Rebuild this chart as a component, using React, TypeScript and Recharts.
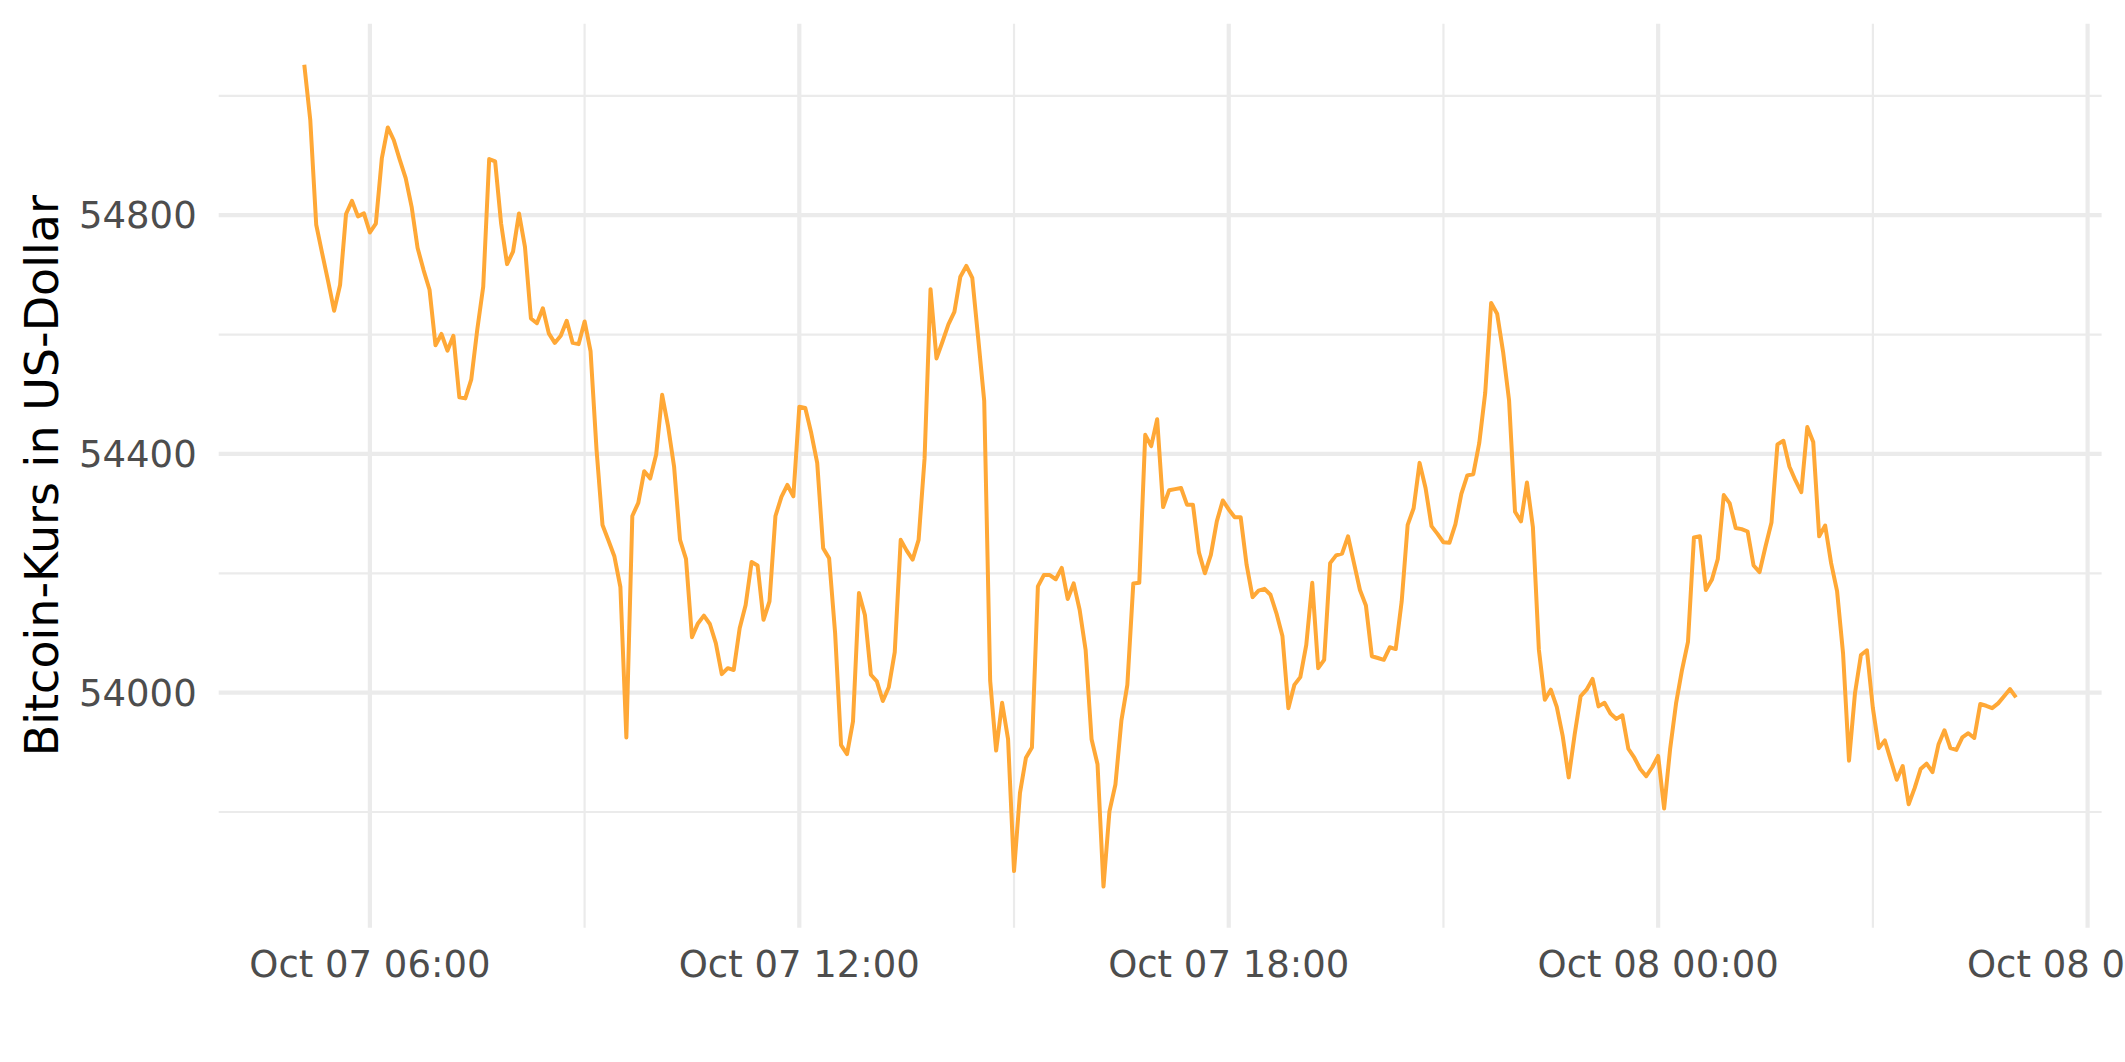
import React from 'react';
import { LineChart, Line, XAxis, YAxis, CartesianGrid } from 'recharts';

// Time index: minutes since Oct 07 00:00, sampled every 5 minutes
const startMinute = 305; // Oct 07 05:05
const stepMinutes = 5;

const prices: number[] = [
  55052, 54960, 54784, 54736, 54689, 54640, 54683, 54802, 54824, 54798,
  54803, 54771, 54786, 54895, 54947, 54926, 54893, 54862, 54814, 54745,
  54708, 54675, 54582, 54601, 54573, 54598, 54495, 54493, 54525, 54608,
  54680, 54894, 54890, 54786, 54718, 54739, 54803, 54747, 54627, 54619,
  54644, 54602, 54586, 54598, 54623, 54586, 54584, 54622, 54572, 54407,
  54281, 54255, 54228, 54177, 53925, 54296, 54318, 54371, 54359, 54399,
  54499, 54446, 54379, 54256, 54224, 54093, 54116, 54129, 54115, 54083,
  54031, 54041, 54038, 54108, 54147, 54219, 54213, 54122, 54153, 54296,
  54328, 54348, 54329, 54479, 54477, 54435, 54385, 54242, 54225, 54100,
  53912, 53897, 53952, 54167, 54130, 54030, 54019, 53986, 54009, 54068,
  54256, 54238, 54223, 54256, 54392, 54676, 54560, 54588, 54617, 54638,
  54697, 54715, 54695, 54593, 54489, 54020, 53903, 53983, 53922, 53701,
  53832, 53891, 53908, 54178, 54197, 54197, 54190, 54209, 54157, 54183,
  54139, 54072, 53922, 53880, 53675, 53801, 53846, 53953, 54013, 54183,
  54184, 54432, 54413, 54458, 54311, 54339, 54341, 54343, 54315, 54315,
  54235, 54200, 54231, 54287, 54322, 54307, 54294, 54294, 54214, 54160,
  54171, 54174, 54164, 54133, 54095, 53974, 54013, 54026, 54080, 54184,
  54041, 54055, 54217, 54230, 54233, 54262, 54217, 54172, 54146, 54061,
  54058, 54055, 54076, 54073, 54153, 54281, 54309, 54385, 54343, 54279,
  54266, 54252, 54251, 54282, 54333, 54364, 54366, 54418, 54502, 54653,
  54635, 54571, 54490, 54303, 54287, 54352, 54277, 54072, 53988, 54005,
  53976, 53927, 53858, 53930, 53994, 54005, 54023, 53977, 53983, 53965,
  53956, 53962, 53906, 53891, 53872, 53860, 53875, 53894, 53806, 53905,
  53982, 54038, 54085, 54260, 54262, 54172, 54189, 54224, 54331, 54317,
  54276, 54274, 54270, 54213, 54202, 54245, 54285, 54416, 54422, 54379,
  54356, 54336, 54445, 54420, 54262, 54280, 54217, 54170, 54066, 53886,
  53999, 54063, 54071, 53974, 53907, 53920, 53887, 53854, 53877, 53813,
  53840, 53872, 53881, 53867, 53913, 53937, 53907, 53904, 53925, 53932,
  53924, 53981, 53978, 53974, 53982, 53994, 54006, 53992,
];

const xMajorTicks = [360, 720, 1080, 1440, 1800];
const xTickLabels = ['Oct 07 06:00', 'Oct 07 12:00', 'Oct 07 18:00', 'Oct 08 00:00', 'Oct 08 06:00'];
const xMinorTicks = [540, 900, 1260, 1620];
const yMajorTicks = [54000, 54400, 54800];
const yMinorTicks = [53800, 54200, 54600, 55000];

const yTitle = 'Bitcoin-Kurs in US-Dollar';

const data = prices.map((p, i) => ({ t: startMinute + i * stepMinutes, price: p }));

// ggplot-style 5% expansion of the data range
const tMin = data[0].t;
const tMax = data[data.length - 1].t;
const tPad = (tMax - tMin) * 0.05;
const pMin = Math.min(...prices);
const pMax = Math.max(...prices);
const pPad = (pMax - pMin) * 0.05;

const FONT = 'DejaVu Sans';

const fmtX = (v: number) => {
  const idx = xMajorTicks.indexOf(v);
  return idx >= 0 ? xTickLabels[idx] : '';
};

const YTitle = () => (
  <text
    x={0}
    y={0}
    transform="translate(58,475.7) rotate(-90)"
    textAnchor="middle"
    fontFamily={FONT}
    fontSize={46}
    fill="#000000"
  >
    {yTitle}
  </text>
);

export default function App() {
  return (
    <div style={{ position: 'absolute', left: 0, top: 0, width: 2125, height: 1062, background: '#ffffff' }}>
      <LineChart
        width={2125}
        height={1062}
        data={data}
        margin={{ top: 23.7, right: 23.4, bottom: 0, left: 0 }}
      >
        <CartesianGrid
          horizontalValues={yMinorTicks}
          verticalValues={xMinorTicks}
          stroke="#EBEBEB"
          strokeWidth={2.2}
        />
        <CartesianGrid
          horizontalValues={yMajorTicks}
          verticalValues={xMajorTicks}
          stroke="#EBEBEB"
          strokeWidth={4.2}
        />
        <XAxis
          dataKey="t"
          type="number"
          domain={[tMin - tPad, tMax + tPad]}
          ticks={xMajorTicks}
          tickFormatter={fmtX}
          interval={0}
          axisLine={false}
          tickLine={false}
          tickSize={0}
          tickMargin={23}
          height={134.3}
          allowDataOverflow
          tick={{ fontFamily: FONT, fontSize: 37, fill: '#4D4D4D' }}
        />
        <YAxis
          type="number"
          domain={[pMin - pPad, pMax + pPad]}
          ticks={yMajorTicks}
          interval={0}
          axisLine={false}
          tickLine={false}
          tickSize={0}
          tickMargin={22}
          width={218.7}
          allowDataOverflow
          tick={{ fontFamily: FONT, fontSize: 37, fill: '#4D4D4D' }}
          label={<YTitle />}
        />
        <Line
          type="linear"
          dataKey="price"
          stroke="#FFA836"
          strokeWidth={4}
          strokeLinejoin="round"
          dot={false}
          activeDot={false}
          isAnimationActive={false}
        />
      </LineChart>
    </div>
  );
}
